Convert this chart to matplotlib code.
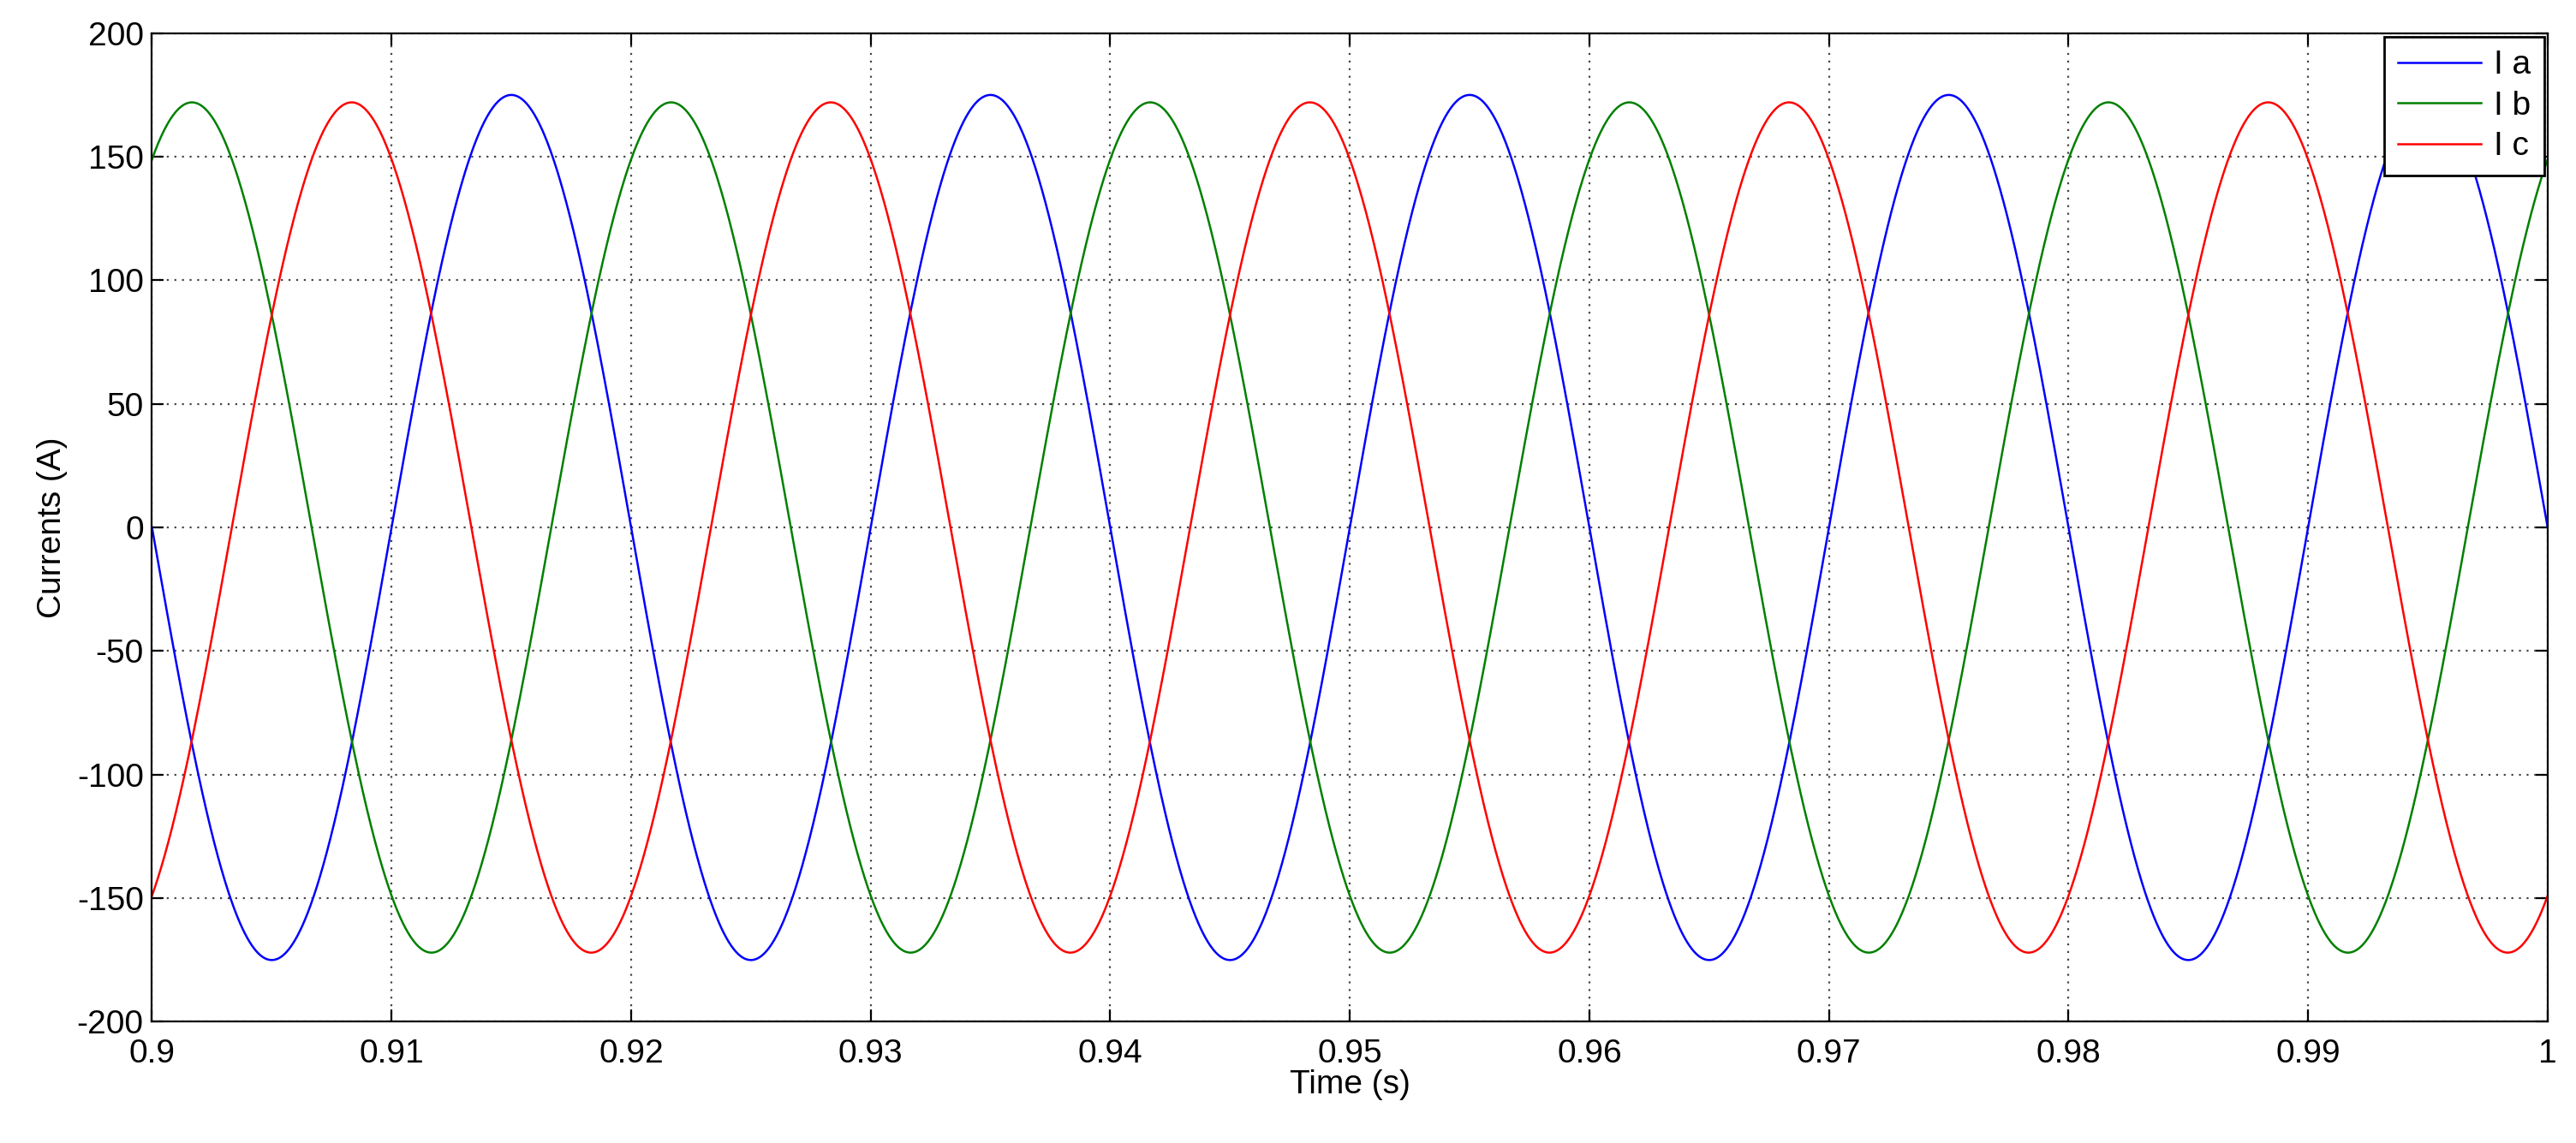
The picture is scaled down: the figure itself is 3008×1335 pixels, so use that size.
import numpy as np
import matplotlib
matplotlib.use("Agg")
import matplotlib.pyplot as plt

# three-phase currents: 50 Hz, peak amplitudes and phase at t = 0.9 s
freq_hz = 50.0
t_start, t_end = 0.9, 1.0
amp_a, amp_b, amp_c = 175.0, 172.0, 172.0
phase_a, phase_b, phase_c = np.pi, np.pi / 3, -np.pi / 3
labels = ["I a", "I b", "I c"]
colors = ["#0000ff", "#008000", "#ff0000"]
xticks = [0.9, 0.91, 0.92, 0.93, 0.94, 0.95, 0.96, 0.97, 0.98, 0.99, 1.0]
xticklabels = ["0.9", "0.91", "0.92", "0.93", "0.94", "0.95", "0.96", "0.97", "0.98", "0.99", "1"]
yticks = list(range(-200, 201, 50))

t = np.linspace(t_start, t_end, 4001)
theta = 2 * np.pi * freq_hz * (t - t_start)
series = [amp_a * np.sin(theta + phase_a),
          amp_b * np.sin(theta + phase_b),
          amp_c * np.sin(theta + phase_c)]

plt.rcParams["font.family"] = ["Liberation Sans", "DejaVu Sans"]
plt.rcParams["axes.unicode_minus"] = False
fig = plt.figure(figsize=(15.04, 6.675), dpi=200)
ax = fig.add_axes([0.059, 0.106, 0.930, 0.865])
for y, lab, col in zip(series, labels, colors):
    ax.plot(t, y, color=col, lw=0.9, label=lab)

ax.set_xlim(t_start, t_end)
ax.set_ylim(-200, 200)
ax.set_xticks(xticks)
ax.set_xticklabels(xticklabels)
ax.set_yticks(yticks)
ax.tick_params(direction="in", labelsize=14, length=5, top=True, right=True)
ax.tick_params(axis="x", pad=7)
ax.grid(True, linestyle=(0, (1, 3)), color="#444444", lw=0.8)
ax.set_xlabel("Time (s)", fontsize=14, labelpad=0)
ax.set_ylabel("Currents (A)", fontsize=14)
leg = ax.legend(loc="upper right", fontsize=14, fancybox=False, borderaxespad=0.1,
                handlelength=2.5, handletextpad=0.4, labelspacing=0.3, framealpha=1)
leg.get_frame().set_edgecolor("black")

fig.savefig("out.png", dpi=200)
